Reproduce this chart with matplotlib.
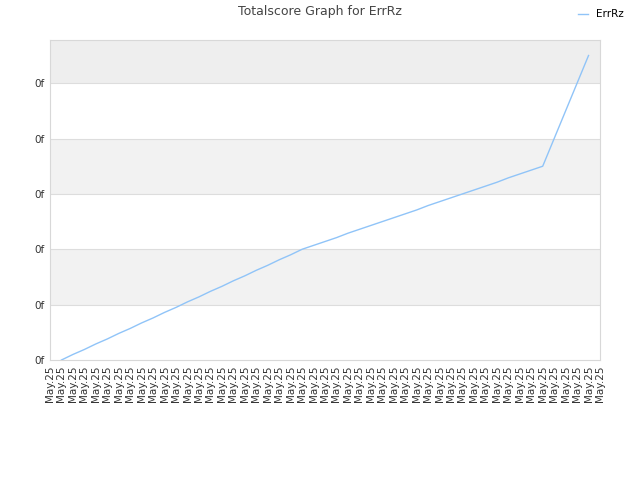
import matplotlib
matplotlib.use("Agg")
import matplotlib.pyplot as plt

# 49 date labels on the x axis, all the same
x_labels = ["May.25"] * 49
# totalscore series (47 points; grid step = 100)
scores = [0, 10, 19, 29, 38, 48, 57, 67, 76, 86, 95, 105, 114, 124, 133, 143,
          152, 162, 171, 181, 190, 200,
          207, 214, 221, 229, 236, 243, 250, 257, 264, 271, 279, 286, 293, 300,
          307, 314, 321, 329, 336, 343, 350,
          400, 450, 500, 550]
y_ticks = [0, 100, 200, 300, 400, 500]
y_labels = ["0f"] * 6
series_name = "ErrRz"

fig = plt.figure(figsize=(6.4, 4.8), dpi=100)
ax = fig.add_axes([50 / 640, 120 / 480, 550 / 640, 320 / 480])

ymax = 578
ax.set_xlim(0, len(x_labels) - 1)
ax.set_ylim(0, ymax)

# alternating background bands
bands = [(0, 100, "#ffffff"), (100, 200, "#f2f2f2"), (200, 300, "#ffffff"),
         (300, 400, "#f2f2f2"), (400, 500, "#ffffff"), (500, ymax, "#eeeeee")]
for lo, hi, c in bands:
    ax.axhspan(lo, hi, color=c, zorder=0, lw=0)
for t in y_ticks[1:]:
    ax.axhline(t, color="#dddddd", lw=0.8, zorder=1)

xs = list(range(1, len(scores) + 1))
ax.plot(xs, scores, color="#90c4f8", lw=1.0, zorder=3, label=series_name)

ax.set_xticks(range(len(x_labels)))
ax.set_xticklabels(x_labels, rotation=90, fontsize=7.5, color="#333333")
ax.set_yticks(y_ticks)
ax.set_yticklabels(y_labels, fontsize=7.5, color="#333333")
ax.tick_params(length=0, pad=4)
for s in ax.spines.values():
    s.set_color("#d8d8d8")

fig.text(320 / 640, 1 - 12 / 480, "Totalscore Graph for ErrRz", ha="center",
         va="center", fontsize=9, color="#444444")
fig.legend(loc="upper right", bbox_to_anchor=(0.99, 1.0), frameon=False,
           fontsize=7.5, handlelength=1.0, handletextpad=0.8)

fig.savefig("out.png", dpi=100)
